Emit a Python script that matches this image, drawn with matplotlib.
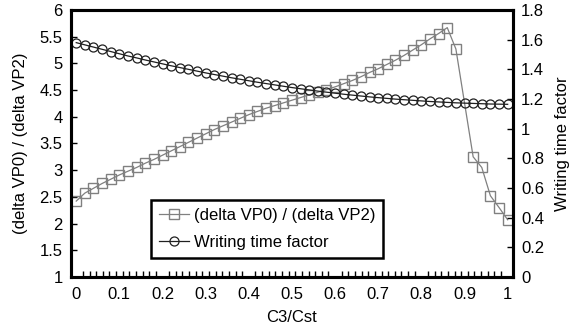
import numpy as np
import matplotlib.pyplot as plt
from matplotlib.ticker import FixedLocator

plt.rcParams['font.family'] = ['Liberation Sans', 'DejaVu Sans']
plt.rcParams['font.size'] = 12

# ratio (delta VP0)/(delta VP2) - left axis
ratio_x = [0.00, 0.02, 0.04, 0.06, 0.08, 0.10, 0.12, 0.14, 0.16, 0.18,
           0.20, 0.22, 0.24, 0.26, 0.28, 0.30, 0.32, 0.34, 0.36, 0.38,
           0.40, 0.42, 0.44, 0.46, 0.48, 0.50, 0.52, 0.54, 0.56, 0.58,
           0.60, 0.62, 0.64, 0.66, 0.68, 0.70, 0.72, 0.74, 0.76, 0.78,
           0.80, 0.82, 0.84, 0.86, 0.88, 0.92, 0.94, 0.96, 0.98, 1.00]
ratio_y = [2.42, 2.57, 2.66, 2.75, 2.83, 2.91, 2.98, 3.05, 3.13, 3.20,
           3.28, 3.36, 3.44, 3.52, 3.60, 3.68, 3.76, 3.83, 3.90, 3.97,
           4.04, 4.10, 4.16, 4.21, 4.26, 4.31, 4.36, 4.41, 4.46, 4.51,
           4.56, 4.62, 4.68, 4.75, 4.83, 4.90, 4.98, 5.06, 5.15, 5.25,
           5.35, 5.46, 5.56, 5.67, 5.27, 3.25, 3.05, 2.52, 2.30, 2.07]

# writing time factor - right axis
wt_x = [round(0.02 * i, 2) for i in range(51)]
wt_y = [1.580, 1.565, 1.550, 1.535, 1.520, 1.505, 1.490, 1.477, 1.463, 1.450,
        1.437, 1.424, 1.412, 1.400, 1.388, 1.376, 1.365, 1.354, 1.343, 1.333,
        1.323, 1.313, 1.304, 1.295, 1.286, 1.277, 1.269, 1.261, 1.253, 1.246,
        1.239, 1.232, 1.226, 1.220, 1.214, 1.209, 1.204, 1.199, 1.195, 1.191,
        1.187, 1.183, 1.180, 1.177, 1.174, 1.172, 1.170, 1.168, 1.166, 1.165,
        1.164]

fig, ax = plt.subplots(figsize=(5.73, 3.34), dpi=100)
fig.subplots_adjust(left=0.124, right=0.895, top=0.970, bottom=0.171)
ax2 = ax.twinx()

l1, = ax.plot(ratio_x, ratio_y, color='#808080', lw=0.9, marker='s', ms=6.5,
              mfc='none', mec='#808080', mew=1.0,
              label='(delta VP0) / (delta VP2)')
l2, = ax2.plot(wt_x, wt_y, color='#202020', lw=0.9, marker='o', ms=6.5,
               mfc='none', mec='#202020', mew=0.9,
               label='Writing time factor')

ax.set_xlim(-0.012, 1.012)
ax.set_ylim(1, 6)
ax2.set_ylim(0, 1.8)
ax.set_xticks(np.arange(0, 1.01, 0.1))
ax.set_xticklabels(['0', '0.1', '0.2', '0.3', '0.4', '0.5', '0.6', '0.7', '0.8', '0.9', '1'])
ax.xaxis.set_minor_locator(FixedLocator(np.arange(0, 1.001, 1 / 65)))
ax.set_yticks(np.arange(1, 6.01, 0.5))
ax.set_yticklabels(['1', '1.5', '2', '2.5', '3', '3.5', '4', '4.5', '5', '5.5', '6'])
ax2.set_yticks(np.arange(0, 1.81, 0.2))
ax2.set_yticklabels(['0', '0.2', '0.4', '0.6', '0.8', '1', '1.2', '1.4', '1.6', '1.8'])

ax.tick_params(axis='x', which='major', direction='in', length=0, pad=7, labelsize=12)
ax.tick_params(axis='x', which='minor', direction='in', length=4, width=1)
ax.tick_params(axis='y', direction='in', length=4, width=1, pad=6, labelsize=12)
ax2.tick_params(axis='y', direction='in', length=4, width=1, pad=6, labelsize=12)

for a in (ax, ax2):
    for s in a.spines.values():
        s.set_linewidth(2.2)

ax.set_xlabel('C3/Cst', fontsize=12, labelpad=6)
ax.set_ylabel('(delta VP0) / (delta VP2)', fontsize=12, labelpad=8)
ax2.set_ylabel('Writing time factor', fontsize=12, labelpad=8)

leg = ax.legend(handles=[l1, l2], loc='upper left', bbox_to_anchor=(0.181, 0.287),
                borderaxespad=0, fancybox=False, framealpha=1, edgecolor='black',
                fontsize=12, handlelength=1.8, handletextpad=0.3,
                borderpad=0.45, labelspacing=0.75)
leg.get_frame().set_linewidth(1.8)
leg.set_zorder(5)

plt.savefig('out.png', dpi=100)
